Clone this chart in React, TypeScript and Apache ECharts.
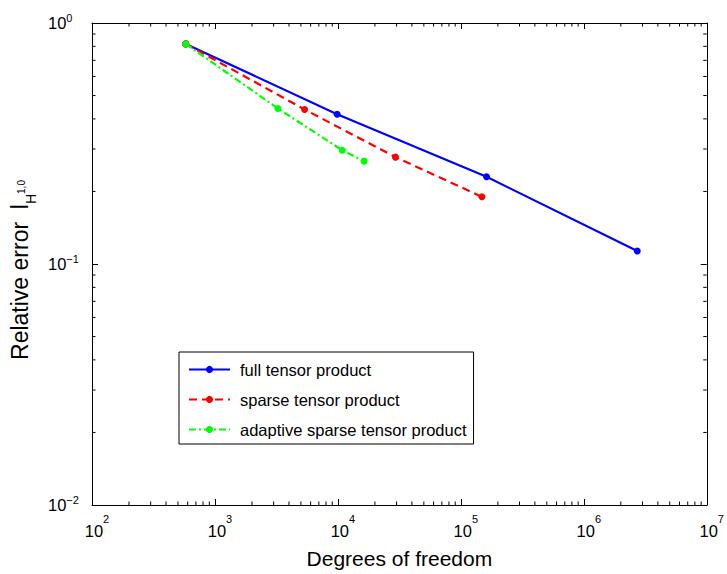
import React, { useEffect, useRef } from 'react';
import * as echarts from 'echarts';

const seriesNames = ['full tensor product', 'sparse tensor product', 'adaptive sparse tensor product'];
const fullDof = [579, 9860, 161800, 2720000];
const fullErr = [0.819, 0.418, 0.23, 0.1133];
const sparseDof = [579, 5360, 29400, 148300];
const sparseErr = [0.819, 0.4377, 0.2776, 0.19];
const adaptiveDof = [579, 3250, 10840, 16330];
const adaptiveErr = [0.819, 0.4419, 0.2966, 0.2672];
const xTickExponents = [2, 3, 4, 5, 6, 7];
const yTickExponents = [-2, -1, 0];
const minorMultipliers = [2, 3, 4, 5, 6, 7, 8, 9];

const FONT = "'Liberation Sans', Arial, Helvetica, sans-serif";

const xMin = Math.pow(10, xTickExponents[0]);
const xMax = Math.pow(10, xTickExponents[xTickExponents.length - 1]);
const yMin = Math.pow(10, yTickExponents[0]);
const yMax = Math.pow(10, yTickExponents[yTickExponents.length - 1]);

const minorValues = (exps: number[]) => {
  const out: number[] = [];
  exps.slice(0, -1).forEach((e) => minorMultipliers.forEach((k) => out.push(k * Math.pow(10, e))));
  return out;
};

const expLabel = (value: number) => {
  const e = Math.round(Math.log10(value));
  const s = e < 0 ? '\u2212' + String(-e) : String(e);
  return `{b|10}{s|${s}}`;
};

const pairs = (xs: number[], ys: number[]) => xs.map((x, i) => [x, ys[i]]);

export default function App() {
  const ref = useRef<HTMLDivElement>(null);
  useEffect(() => {
    if (!ref.current) return;
    const chart = echarts.init(ref.current, undefined, { renderer: 'svg' });
    const tickLine = { color: '#000', width: 1 };
    const MINOR = 3.5;
    const option: any = {
      animation: false,
      backgroundColor: '#fff',
      grid: { left: 92, right: 19, top: 23, bottom: 66, containLabel: false },
      legend: {
        orient: 'vertical',
        left: 179,
        top: 352,
        data: seriesNames,
        itemWidth: 41,
        itemHeight: 9,
        itemGap: 13,
        padding: [9, 7, 6, 9],
        borderColor: '#000',
        borderWidth: 1,
        backgroundColor: '#fff',
        selectedMode: false,
        textStyle: { fontSize: 16.5, color: '#000', fontFamily: FONT, padding: [0, 0, 0, 5] },
      },
      xAxis: [
        {
          type: 'log',
          logBase: 10,
          min: xMin,
          max: xMax,
          position: 'bottom',
          name: 'Degrees of freedom',
          nameLocation: 'middle',
          nameGap: 43,
          nameTextStyle: { fontSize: 21, color: '#000', fontFamily: FONT },
          axisLine: { show: true, lineStyle: { color: '#000', width: 1 } },
          axisTick: { show: true, inside: true, length: 6, lineStyle: tickLine },
          splitLine: { show: false },
          minorTick: { show: false },
          axisLabel: {
            show: true,
            margin: 8,
            formatter: expLabel,
            color: '#000',
            fontFamily: FONT,
            rich: {
              b: { fontSize: 16.5, fontFamily: FONT, color: '#000', padding: [0, 0, 0, 10] },
              s: { fontSize: 11, fontFamily: FONT, color: '#000', padding: [0, 0, 25, 0] },
            },
          },
        },
        {
          type: 'log',
          logBase: 10,
          min: xMin,
          max: xMax,
          position: 'top',
          axisLine: { show: true, lineStyle: { color: '#000', width: 1 } },
          axisTick: { show: true, inside: true, length: 6, lineStyle: tickLine },
          splitLine: { show: false },
          axisLabel: { show: false },
        },
      ],
      yAxis: [
        {
          type: 'log',
          logBase: 10,
          min: yMin,
          max: yMax,
          position: 'left',
          axisLine: { show: true, lineStyle: { color: '#000', width: 1 } },
          axisTick: { show: true, inside: true, length: 6, lineStyle: tickLine },
          splitLine: { show: false },
          axisLabel: {
            show: true,
            margin: 44,
            align: 'left',
            formatter: expLabel,
            color: '#000',
            fontFamily: FONT,
            rich: {
              b: { fontSize: 16.5, fontFamily: FONT, color: '#000' },
              s: { fontSize: 11, fontFamily: FONT, color: '#000', padding: [0, 0, 11, 0] },
            },
          },
        },
        {
          type: 'log',
          logBase: 10,
          min: yMin,
          max: yMax,
          position: 'right',
          axisLine: { show: true, lineStyle: { color: '#000', width: 1 } },
          axisTick: { show: true, inside: true, length: 6, lineStyle: tickLine },
          splitLine: { show: false },
          axisLabel: { show: false },
        },
      ],
      graphic: [
        {
          type: 'text',
          x: 20,
          y: 270,
          rotation: Math.PI / 2,
          silent: true,
          style: {
            text: '{m|Relative error  l}{sub|H}{sup|1,0}',
            align: 'center',
            verticalAlign: 'middle',
            fill: '#000',
            rich: {
              m: { fontSize: 23, fontFamily: FONT, fill: '#000', color: '#000' },
              sub: { fontSize: 14, fontFamily: FONT, fill: '#000', color: '#000', padding: [22, 0, 0, 0] },
              sup: { fontSize: 10, fontFamily: FONT, fill: '#000', color: '#000', padding: [3, 0, 0, 0] },
            },
          },
        },
      ],
      series: [
        {
          type: 'custom',
          silent: true,
          clip: false,
          xAxisIndex: 0,
          yAxisIndex: 0,
          data: minorValues(xTickExponents).map((v) => [v, yMin]),
          renderItem: (params: any, api: any) => {
            const v = api.value(0);
            const b = api.coord([v, yMin]);
            const t = api.coord([v, yMax]);
            return {
              type: 'group',
              children: [
                { type: 'line', shape: { x1: b[0], y1: b[1], x2: b[0], y2: b[1] - MINOR }, style: { stroke: '#000', lineWidth: 1 } },
                { type: 'line', shape: { x1: t[0], y1: t[1], x2: t[0], y2: t[1] + MINOR }, style: { stroke: '#000', lineWidth: 1 } },
              ],
            };
          },
        },
        {
          type: 'custom',
          silent: true,
          clip: false,
          xAxisIndex: 0,
          yAxisIndex: 0,
          data: minorValues(yTickExponents).map((v) => [xMin, v]),
          renderItem: (params: any, api: any) => {
            const v = api.value(1);
            const l = api.coord([xMin, v]);
            const r = api.coord([xMax, v]);
            return {
              type: 'group',
              children: [
                { type: 'line', shape: { x1: l[0], y1: l[1], x2: l[0] + MINOR, y2: l[1] }, style: { stroke: '#000', lineWidth: 1 } },
                { type: 'line', shape: { x1: r[0], y1: r[1], x2: r[0] - MINOR, y2: r[1] }, style: { stroke: '#000', lineWidth: 1 } },
              ],
            };
          },
        },
        {
          name: seriesNames[0],
          type: 'line',
          xAxisIndex: 0,
          yAxisIndex: 0,
          data: pairs(fullDof, fullErr),
          symbol: 'circle',
          symbolSize: 7,
          itemStyle: { color: '#0000ff' },
          lineStyle: { color: '#0000ff', width: 2.2, type: 'solid' },
          emphasis: { disabled: true },
          z: 4,
        },
        {
          name: seriesNames[1],
          type: 'line',
          xAxisIndex: 0,
          yAxisIndex: 0,
          data: pairs(sparseDof, sparseErr),
          symbol: 'circle',
          symbolSize: 7,
          itemStyle: { color: '#ff0000' },
          lineStyle: { color: '#ff0000', width: 2.2, type: [8, 5] },
          emphasis: { disabled: true },
          z: 5,
        },
        {
          name: seriesNames[2],
          type: 'line',
          xAxisIndex: 0,
          yAxisIndex: 0,
          data: pairs(adaptiveDof, adaptiveErr),
          symbol: 'circle',
          symbolSize: 7,
          itemStyle: { color: '#00ff00' },
          lineStyle: { color: '#00ff00', width: 2.2, type: [7, 3, 2, 3] },
          emphasis: { disabled: true },
          z: 6,
        },
      ],
    };
    chart.setOption(option);
    return () => chart.dispose();
  }, []);
  return (
    <div
      ref={ref}
      style={{ position: 'absolute', left: 0, top: 0, width: 727, height: 574, background: '#fff' }}
    />
  );
}
